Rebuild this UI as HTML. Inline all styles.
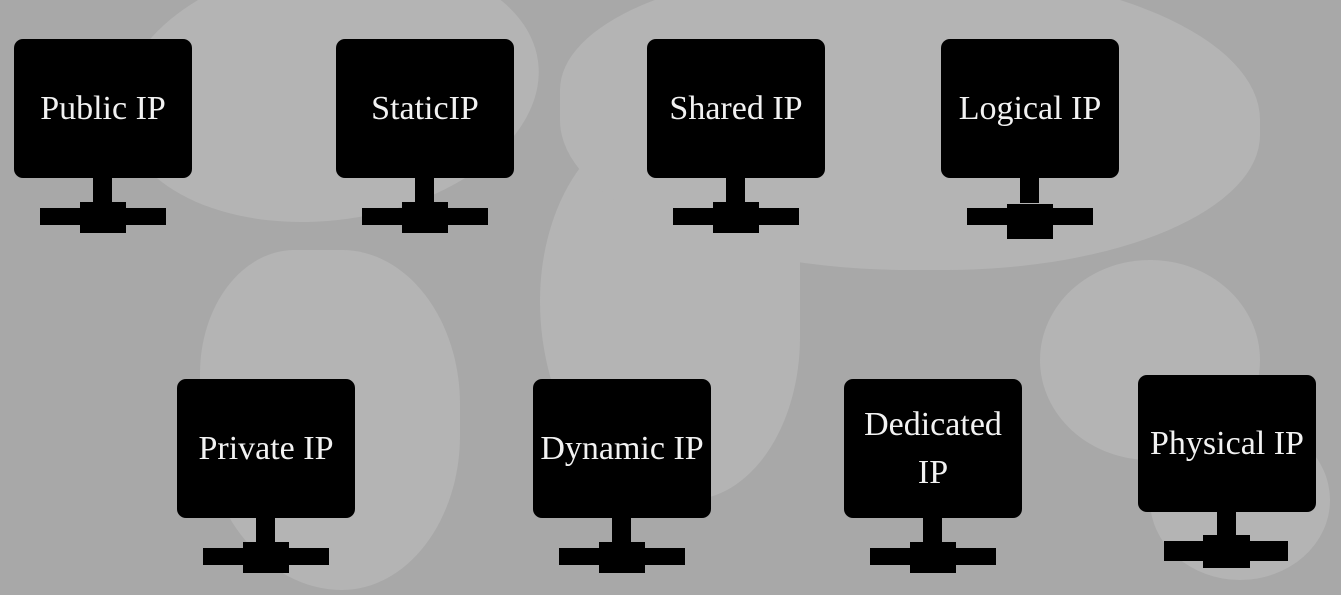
<!DOCTYPE html>
<html><head><meta charset="utf-8"><style>
html,body{margin:0;padding:0}
body{width:1341px;height:595px;overflow:hidden;background:#a8a8a8;position:relative;font-family:"Liberation Serif",serif}
.m{position:absolute;background:#b4b4b4;border-radius:50%}
.n{position:absolute;width:178px;height:200px}
.b{position:absolute;left:0;top:0;width:178px;height:139px;background:#000;border-radius:9px;color:#f2f2f2;font-size:34px;display:flex;align-items:center;justify-content:center;text-align:center;line-height:48px;white-space:nowrap}
.s{position:absolute;left:79px;top:139px;width:19px;height:25px;background:#000}
.k{position:absolute;left:66px;top:163px;width:46px;height:31px;background:#000}
.r{position:absolute;left:26px;top:169px;width:126px;height:17px;background:#000}
</style></head><body>
<div class="m" style="left:120px;top:-40px;width:420px;height:260px;transform:rotate(-8deg)"></div>
<div class="m" style="left:200px;top:250px;width:260px;height:340px;border-radius:40% 50% 50% 60%"></div>
<div class="m" style="left:540px;top:120px;width:260px;height:380px;border-radius:50% 40% 45% 55%"></div>
<div class="m" style="left:560px;top:-30px;width:700px;height:300px;border-radius:40% 50% 45% 50%"></div>
<div class="m" style="left:1040px;top:260px;width:220px;height:200px"></div>
<div class="m" style="left:1150px;top:420px;width:180px;height:160px"></div>

<div class="n" style="left:14px;top:39px"><div class="b">Public IP</div><div class="s"></div><div class="k"></div><div class="r"></div></div>
<div class="n" style="left:336px;top:39px"><div class="b">StaticIP</div><div class="s"></div><div class="k"></div><div class="r"></div></div>
<div class="n" style="left:647px;top:39px"><div class="b">Shared IP</div><div class="s"></div><div class="k"></div><div class="r"></div></div>
<div class="n" style="left:941px;top:39px"><div class="b">Logical IP</div><div class="s"></div><div class="k" style="top:165px;height:35px"></div><div class="r"></div></div>
<div class="n" style="left:177px;top:379px"><div class="b">Private IP</div><div class="s"></div><div class="k"></div><div class="r"></div></div>
<div class="n" style="left:533px;top:379px"><div class="b">Dynamic IP</div><div class="s"></div><div class="k"></div><div class="r"></div></div>
<div class="n" style="left:844px;top:379px"><div class="b">Dedicated<br>IP</div><div class="s"></div><div class="k"></div><div class="r"></div></div>
<div class="n" style="left:1138px;top:375px"><div class="b" style="height:137px">Physical IP</div><div class="s" style="top:137px;left:79px;height:23px"></div><div class="k" style="top:160px;left:65px;height:33px;width:47px"></div><div class="r" style="top:166px;height:20px;width:124px"></div></div>
</body></html>
